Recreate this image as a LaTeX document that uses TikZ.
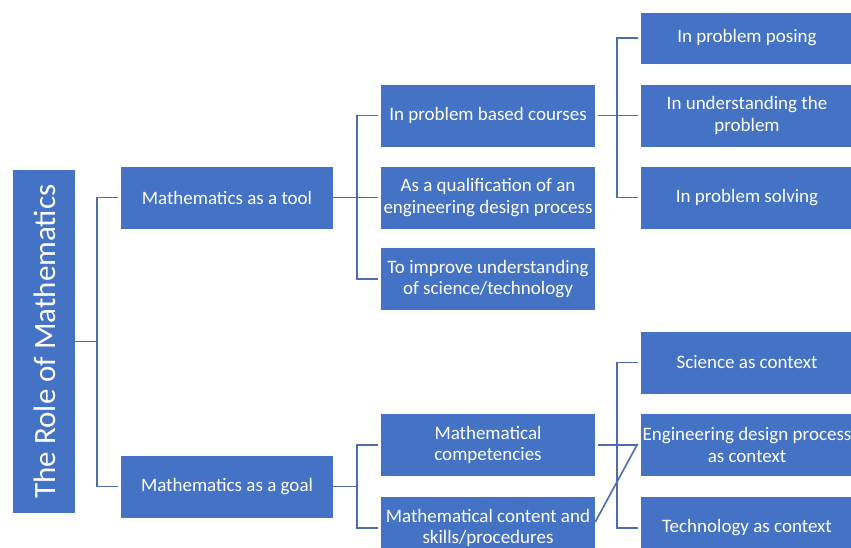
\documentclass[tikz,border=0pt]{standalone}
\usepackage{fontspec}
\setmainfont{Carlito}
\begin{document}
\begin{tikzpicture}[x=1pt,y=-1pt,
  box/.style={fill=boxblue,text=white,inner sep=0pt,align=center,
    font=\fontsize{19}{21.5}\selectfont},
  conn/.style={draw=lineblue,line width=1.6pt}]
\definecolor{boxblue}{HTML}{4472C4}
\definecolor{lineblue}{HTML}{4D6DB0}
\useasboundingbox (0,0) rectangle (851,547);
\clip (0,0) rectangle (851,547);

% root
\node[box,minimum width=62,minimum height=343] (root) at (44,341.5) {};
\node[text=white,rotate=90,inner sep=0pt,font=\fontsize{31}{34}\selectfont]
  (rootlbl) at ([xshift=1pt]root.center) {The Role of Mathematics};

% first level
\node[box,minimum width=212,minimum height=62] (tool) at (227,197.5) {Mathematics as a tool};
\node[box,minimum width=212,minimum height=62] (goal) at (227,486.5) {Mathematics as a goal};

% second level
\node[box,minimum width=214,minimum height=62] (pbc)  at (488,115.5) {In problem based courses};
\node[box,minimum width=214,minimum height=62] (qual) at (488,197.5) {As a qualification of an\\engineering design process};
\node[box,minimum width=214,minimum height=62] (impr) at (488,279) {To improve understanding\\of science/technology};
\node[box,minimum width=214,minimum height=62] (comp) at (488,445) {Mathematical\\competencies};
\node[box,minimum width=214,minimum height=62] (cont) at (488,528) {Mathematical content and\\skills/procedures};

% third level
\node[box,minimum width=212,minimum height=51] (pose) at (747,38) {In problem posing};
\node[box,minimum width=212,minimum height=62] (und)  at (747,115.5) {In understanding the\\problem};
\node[box,minimum width=212,minimum height=62] (solv) at (747,197.5) {In problem solving};
\node[box,minimum width=212,minimum height=62] (sci)  at (747,362.5) {Science as context};
\node[box,minimum width=212,minimum height=62] (eng)  at (747,445) {Engineering design process\\as context};
\node[box,minimum width=212,minimum height=62] (tech) at (747,528) {Technology as context};

% bracket columns
\coordinate (xa) at (97,0);
\coordinate (xb) at (357,0);
\coordinate (xc) at (617,0);
\coordinate (xd) at (637,0);

% root -> tool / goal
\draw[conn] (root.east) -- (root.east -| xa);
\draw[conn] ([xshift=-3pt]tool.west) -- (tool.west -| xa) -- (goal.west -| xa) -- ([xshift=-3pt]goal.west);

% tool -> second level
\draw[conn] (tool.east) -- (tool.east -| xb);
\draw[conn] ([xshift=-3pt]pbc.west) -- (pbc.west -| xb) -- (impr.west -| xb) -- ([xshift=-3pt]impr.west);
\draw[conn] (qual.west -| xb) -- ([xshift=-3pt]qual.west);

% problem based courses -> third level
\draw[conn] ([xshift=3pt]pbc.east) -- (pbc.east -| xc);
\draw[conn] ([xshift=-3pt]pose.west) -- (pose.west -| xc) -- (solv.west -| xc) -- ([xshift=-3pt]solv.west);
\draw[conn] (und.west -| xc) -- ([xshift=-3pt]und.west);

% goal -> second level
\draw[conn] (goal.east) -- (goal.east -| xb);
\draw[conn] ([xshift=-3pt]comp.west) -- (comp.west -| xb) -- (cont.west -| xb) -- ([xshift=-3pt]cont.west);

% competencies / content -> contexts
\draw[conn] ([xshift=3pt]comp.east) -- (comp.east -| xd) -- ([yshift=6pt]cont.east);
\draw[conn] ([xshift=-3pt]sci.west) -- (sci.west -| xc) -- (tech.west -| xc) -- ([xshift=-3pt]tech.west);
\end{tikzpicture}
\end{document}
